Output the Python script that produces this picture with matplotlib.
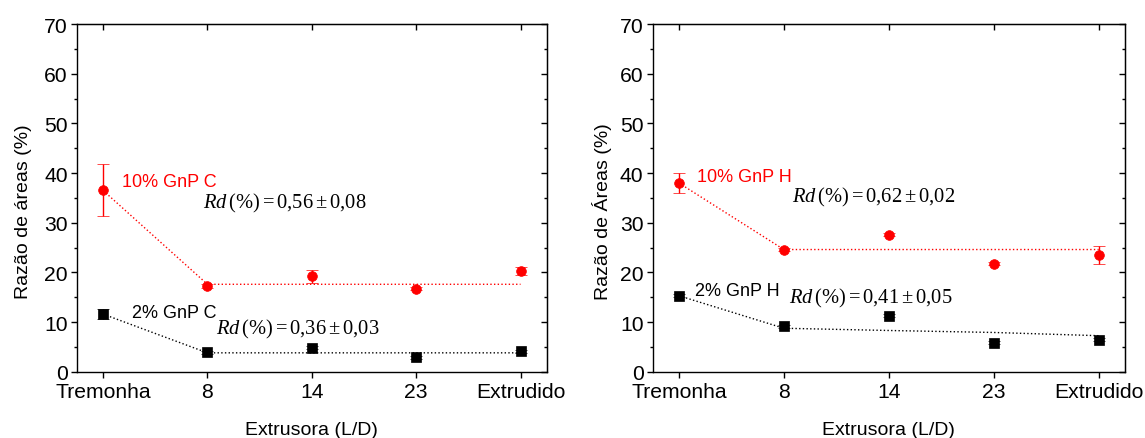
import matplotlib
matplotlib.use("Agg")
import matplotlib.pyplot as plt
from matplotlib.ticker import MultipleLocator

plt.rcParams['font.family'] = ['Liberation Sans', 'DejaVu Sans']
plt.rcParams['mathtext.fontset'] = 'custom'
plt.rcParams['mathtext.rm'] = 'Liberation Serif'
plt.rcParams['mathtext.it'] = 'Liberation Serif:italic'

categories = ['Tremonha', '8', '14', '23', 'Extrudido']

# panel C
c10 = [36.5, 17.3, 19.2, 16.7, 20.2]
c10_err = [5.25, 0.4, 1.3, 0.3, 0.8]
c10_fit = [36.5, 17.6, 17.6, 17.6, 17.6]
c2 = [11.6, 3.9, 4.85, 2.95, 4.1]
c2_err = [1.0, 0.3, 0.3, 0.3, 0.3]
c2_fit = [11.6, 3.8, 3.8, 3.8, 3.8]

# panel H
h10 = [38.0, 24.6, 27.6, 21.7, 23.5]
h10_err = [2.0, 0.3, 0.3, 0.3, 1.8]
h10_fit = [38.0, 24.6, 24.6, 24.6, 24.6]
h2 = [15.3, 9.15, 11.3, 5.85, 6.45]
h2_err = [0.3, 0.3, 0.3, 0.3, 0.3]
h2_fit = [15.3, 8.75, 8.3, 7.9, 7.25]

fig = plt.figure(figsize=(11.45, 4.39), dpi=100)
axL = fig.add_axes([0.0672, 0.151, 0.4102, 0.792])
axR = fig.add_axes([0.570, 0.151, 0.4125, 0.792])

panels = [
    (axL, c10, c10_err, c10_fit, c2, c2_err, c2_fit, 'Razão de áreas (%)', -0.0965,
     [('10% GnP C', 0.185, 38.2), ('2% GnP C', 0.28, 12.0)],
     [(r'$Rd\,\mathrm{(\%)} = 0{,}56 \pm 0{,}08$', 0.96, 34.0), (r'$Rd\,\mathrm{(\%)} = 0{,}36 \pm 0{,}03$', 1.085, 8.8)]),
    (axR, h10, h10_err, h10_fit, h2, h2_err, h2_fit, 'Razão de Áreas (%)', -0.0868,
     [('10% GnP H', 0.175, 39.4), ('2% GnP H', 0.156, 16.3)],
     [(r'$Rd\,\mathrm{(\%)} = 0{,}62 \pm 0{,}02$', 1.08, 35.2), (r'$Rd\,\mathrm{(\%)} = 0{,}41 \pm 0{,}05$', 1.05, 14.9)]),
]

x = list(range(len(categories)))
for ax, r, re, rf, b, be, bf, ylab, ylx, labels, eqs in panels:
    ax.plot(x, rf, ':', color='red', lw=1.0, zorder=1)
    ax.plot(x, bf, ':', color='black', lw=1.0, zorder=1)
    ax.errorbar(x, r, yerr=re, fmt='o', color='red', ms=7, mew=0.5, capsize=4, elinewidth=1, capthick=1, zorder=3)
    ax.errorbar(x, b, yerr=be, fmt='s', color='black', ms=6.5, mew=0.5, capsize=4, elinewidth=1, capthick=1, zorder=3)
    ax.set_xlim(-0.25, 4.25)
    ax.set_ylim(0, 70)
    ax.set_xticks(x)
    ax.set_xticklabels(categories)
    ax.yaxis.set_major_locator(MultipleLocator(10))
    ax.yaxis.set_minor_locator(MultipleLocator(5))
    ax.tick_params(axis='both', which='major', direction='out', length=4, width=1, labelsize=15.2, pad=2.5)
    ax.tick_params(axis='x', which='major', pad=3.5)
    ax.tick_params(axis='y', which='minor', direction='out', length=2.5, width=1)
    ax.set_ylabel(ylab, fontsize=14)
    ax.yaxis.set_label_coords(ylx, 0.464)
    ax.set_xlabel('Extrusora (L/D)', fontsize=14, labelpad=14)
    for s in ax.spines.values():
        s.set_linewidth(1)
    # mirrored ticks pointing in
    top = ax.secondary_xaxis('top')
    top.set_xticks(x)
    top.tick_params(direction='in', length=4, width=1, labeltop=False)
    right = ax.secondary_yaxis('right')
    right.yaxis.set_major_locator(MultipleLocator(10))
    right.yaxis.set_minor_locator(MultipleLocator(5))
    right.tick_params(which='major', direction='in', length=4, width=1, labelright=False)
    right.tick_params(which='minor', direction='in', length=2.5, width=1)
    (t1, x1, y1), (t2, x2, y2) = labels
    ax.text(x1, y1, t1, color='red', fontsize=13, va='center')
    ax.text(x2, y2, t2, color='black', fontsize=13, va='center')
    for t, xx, yy in eqs:
        ax.text(xx, yy, t, color='black', fontsize=14.8, va='center')

fig.savefig('out.png', dpi=100)
